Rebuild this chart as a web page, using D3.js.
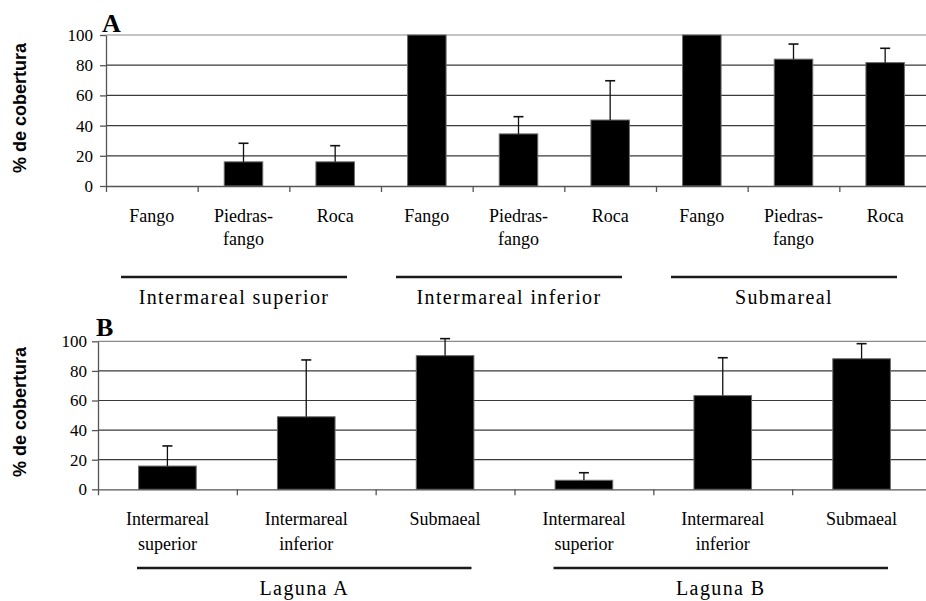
<!DOCTYPE html>
<html>
<head>
<meta charset="utf-8">
<script src="https://cdn.jsdelivr.net/npm/d3@7"></script>
<style>
  body { margin: 0; background: #fff; }
  svg { display: block; }
</style>
</head>
<body>
<div id="chart"></div>
<script>
// panel A: cover by habitat, grouped by zone
var habitatsA = ["Fango", "Piedras-\nfango", "Roca", "Fango", "Piedras-\nfango", "Roca", "Fango", "Piedras-\nfango", "Roca"];
var coverA = [0, 16, 16, 100, 34.5, 43.7, 100, 84, 81.7];
var errA = [0, 12.3, 10.7, 0, 11.4, 26, 0, 10, 9.5];
var zonesA = ["Intermareal superior", "Intermareal inferior", "Submareal"];

// panel B: cover by zone, grouped by lagoon
var zonesB = ["Intermareal\nsuperior", "Intermareal\ninferior", "Submaeal", "Intermareal\nsuperior", "Intermareal\ninferior", "Submaeal"];
var coverB = [15.7, 49, 90.3, 6.1, 63.3, 88.2];
var errB = [13.6, 38.4, 11.5, 5.1, 25.6, 10.2];
var lagunas = ["Laguna A", "Laguna B"];

var yTicks = [0, 20, 40, 60, 80, 100];

var width = 926, height = 601;
var SERIF = '"Liberation Serif", "Times New Roman", serif';
var SANS = '"Liberation Sans", Arial, sans-serif';

var svg = d3.select("#chart")
  .append("svg")
    .attr("width", width)
    .attr("height", height);

function panel(opt) {
  var n = opt.labels.length;
  var x = d3.scaleLinear().domain([0, n]).range([opt.left, opt.right]);
  var y = d3.scaleLinear().domain([0, 100]).range([opt.bottom, opt.top]);
  var step = x(1) - x(0);
  var bw = step * opt.barRatio;

  // gridlines
  svg.append("g")
    .selectAll("line")
    .data(yTicks.filter(function(d) { return d > 0; }))
    .enter().append("line")
      .attr("x1", opt.left).attr("x2", width)
      .attr("y1", function(d) { return y(d); })
      .attr("y2", function(d) { return y(d); })
      .attr("stroke", function(d) { return d == 100 ? "#8a8a8a" : "#3a3a3a"; })
      .attr("stroke-width", 1.2);

  var data = opt.values.map(function(v, i) { return {i: i, v: v, e: opt.errors[i]}; })
    .filter(function(d) { return d.v > 0; });

  // bars
  svg.append("g")
    .selectAll("rect")
    .data(data)
    .enter().append("rect")
      .attr("x", function(d) { return x(d.i + 0.5) - bw / 2; })
      .attr("y", function(d) { return y(d.v); })
      .attr("width", bw)
      .attr("height", function(d) { return y(0) - y(d.v); })
      .attr("fill", "#000")
      .attr("stroke", "#6a6a6a")
      .attr("stroke-width", 1);

  // error bars (upper only)
  var eb = svg.append("g").attr("stroke", "#111")
    .selectAll("g")
    .data(data.filter(function(d) { return d.e > 0; }))
    .enter().append("g");
  eb.append("line")
    .attr("x1", function(d) { return x(d.i + 0.5); })
    .attr("x2", function(d) { return x(d.i + 0.5); })
    .attr("y1", function(d) { return y(d.v); })
    .attr("y2", function(d) { return y(d.v + d.e); })
    .attr("stroke-width", 1.3);
  eb.append("line")
    .attr("x1", function(d) { return x(d.i + 0.5) - 5; })
    .attr("x2", function(d) { return x(d.i + 0.5) + 5; })
    .attr("y1", function(d) { return y(d.v + d.e); })
    .attr("y2", function(d) { return y(d.v + d.e); })
    .attr("stroke-width", 1.6);

  // y axis
  var yAxis = svg.append("g")
    .attr("transform", "translate(" + opt.left + ",0)")
    .call(d3.axisLeft(y).tickValues(yTicks).tickSize(6).tickSizeOuter(0).tickPadding(opt.tickPad));
  yAxis.select(".domain").attr("stroke", "#555").attr("stroke-width", 1.3);
  yAxis.selectAll(".tick line").attr("stroke", "#555").attr("stroke-width", 1.3);
  yAxis.selectAll("text")
    .style("font-family", SERIF)
    .style("font-size", "17px")
    .attr("fill", "#000");

  // x axis (ticks at category boundaries)
  var xAxis = svg.append("g")
    .attr("transform", "translate(0," + y(0) + ")")
    .call(d3.axisBottom(x).tickValues(d3.range(0, n + 1)).tickFormat("").tickSize(6).tickSizeOuter(0));
  xAxis.select(".domain").attr("stroke", "#555").attr("stroke-width", 1.3);
  xAxis.selectAll(".tick line").attr("stroke", "#555").attr("stroke-width", 1.3);

  // category labels
  opt.labels.forEach(function(lab, i) {
    var t = svg.append("text")
      .attr("x", x(i + 0.5))
      .attr("y", opt.labelY)
      .attr("text-anchor", "middle")
      .style("font-family", SERIF)
      .style("font-size", "18px")
      .attr("fill", "#000");
    lab.split("\n").forEach(function(s, j) {
      t.append("tspan")
        .attr("x", x(i + 0.5))
        .attr("dy", j == 0 ? 0 : opt.lineGap)
        .text(s);
    });
  });

  // group lines and labels
  var per = n / opt.groups.length;
  opt.groups.forEach(function(g, k) {
    var x0 = x(k * per) + opt.lineIn[0], x1 = x((k + 1) * per) - opt.lineIn[1];
    svg.append("line")
      .attr("x1", x0).attr("x2", x1)
      .attr("y1", opt.groupLineY).attr("y2", opt.groupLineY)
      .attr("stroke", "#1a1a1a").attr("stroke-width", 2.6);
    svg.append("text")
      .attr("x", (x0 + x1) / 2)
      .attr("y", opt.groupLabelY)
      .attr("text-anchor", "middle")
      .style("font-family", SERIF)
      .style("font-size", "20px")
      .style("letter-spacing", "1.4px")
      .attr("fill", "#000")
      .text(g);
  });

  // axis title
  svg.append("text")
    .attr("transform", "translate(" + opt.titleX + "," + opt.titleY + ") rotate(-90)")
    .attr("text-anchor", "middle")
    .style("font-family", SANS)
    .style("font-weight", "bold")
    .style("font-size", "18px")
    .attr("fill", "#000")
    .text("% de cobertura");

  // panel letter
  svg.append("text")
    .attr("x", opt.letterX)
    .attr("y", opt.letterY)
    .style("font-family", SERIF)
    .style("font-weight", "bold")
    .style("font-size", "26px")
    .attr("fill", "#000")
    .text(opt.letter);
}

panel({
  labels: habitatsA, values: coverA, errors: errA, groups: zonesA,
  left: 106, right: 931, top: 35, bottom: 186, barRatio: 0.42, tickPad: 7,
  labelY: 222, lineGap: 23, groupLineY: 277, groupLabelY: 304, lineIn: [15, 34],
  titleX: 26, titleY: 108, letter: "A", letterX: 102, letterY: 32
});

panel({
  labels: zonesB, values: coverB, errors: errB, groups: lagunas,
  left: 98, right: 931, top: 341.3, bottom: 489.3, barRatio: 0.415, tickPad: 5,
  labelY: 525, lineGap: 25, groupLineY: 568, groupLabelY: 595, lineIn: [39, 43],
  titleX: 26, titleY: 412, letter: "B", letterX: 96, letterY: 336
});
</script>
</body>
</html>
